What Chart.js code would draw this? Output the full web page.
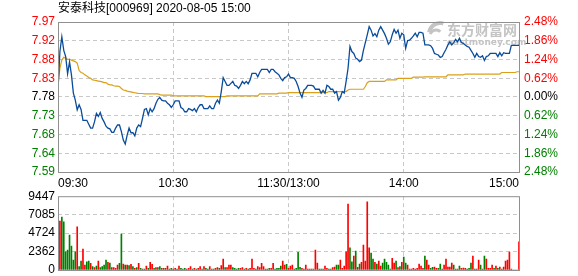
<!DOCTYPE html>
<html lang="zh">
<head>
<meta charset="UTF-8">
<title>安泰科技 分时</title>
<script src="https://cdn.jsdelivr.net/npm/chart.js"></script>
<style>
    html, body { margin: 0; padding: 0; background: #fff; overflow: hidden; }
    .wrap { position: relative; width: 578px; height: 276px; overflow: hidden; }
    #priceChart { position: absolute; left: 0; top: 0; }
    #volChart { position: absolute; left: 0; top: 186px; }
</style>
</head>
<body>
<div class="wrap">
    <canvas id="priceChart" width="578" height="190"></canvas>
    <canvas id="volChart" width="578" height="100"></canvas>
</div>
<script>
const title = '安泰科技[000969] 2020-08-05 15:00';
const prevClose = 7.78;

const pctTicks = [-2.48, -1.86, -1.24, -0.62, 0, 0.62, 1.24, 1.86, 2.48];
const priceTickLabels = ['7.59', '7.64', '7.68', '7.73', '7.78', '7.83', '7.88', '7.92', '7.97'];
const pctTickLabels = ['2.48%', '1.86%', '1.24%', '0.62%', '0.00%', '0.62%', '1.24%', '1.86%', '2.48%'];
const timeTicks = [0, 60, 120, 180, 240];
const timeLabels = ['09:30', '10:30', '11:30/13:00', '14:00', '15:00'];
const volTicks = [0, 2362, 4724, 7085, 9447];

// one value per minute, 09:30 .. 15:00
const price = [
    7.800, 7.897, 7.935, 7.900, 7.884, 7.840, 7.870, 7.837, 7.790, 7.772,
    7.747, 7.760, 7.748, 7.720, 7.720, 7.720, 7.710, 7.700, 7.700, 7.716,
    7.738, 7.730, 7.740, 7.725, 7.716, 7.705, 7.700, 7.698, 7.689, 7.689,
    7.700, 7.708, 7.708, 7.691, 7.669, 7.659, 7.682, 7.700, 7.688, 7.688,
    7.680, 7.700, 7.708, 7.704, 7.725, 7.748, 7.750, 7.734, 7.750, 7.742,
    7.750, 7.764, 7.774, 7.779, 7.772, 7.770, 7.770, 7.764, 7.760, 7.753,
    7.760, 7.770, 7.770, 7.770, 7.753, 7.750, 7.742, 7.742, 7.750, 7.748,
    7.745, 7.750, 7.742, 7.753, 7.760, 7.760, 7.750, 7.750, 7.750, 7.757,
    7.750, 7.750, 7.764, 7.772, 7.764, 7.794, 7.830, 7.820, 7.810, 7.810,
    7.815, 7.820, 7.810, 7.808, 7.802, 7.810, 7.820, 7.814, 7.820, 7.814,
    7.824, 7.841, 7.841, 7.841, 7.832, 7.843, 7.851, 7.851, 7.851, 7.851,
    7.843, 7.851, 7.851, 7.845, 7.841, 7.837, 7.828, 7.822, 7.830, 7.832,
    7.839, 7.830, 7.830, 7.828, 7.820, 7.807, 7.790, 7.779, 7.798, 7.802,
    7.810, 7.810, 7.810, 7.808, 7.800, 7.800, 7.800, 7.790, 7.797, 7.790,
    7.810, 7.807, 7.800, 7.800, 7.790, 7.794, 7.772, 7.779, 7.794, 7.790,
    7.820, 7.854, 7.910, 7.897, 7.892, 7.880, 7.877, 7.871, 7.875, 7.900,
    7.920, 7.940, 7.961, 7.952, 7.937, 7.943, 7.935, 7.952, 7.961, 7.952,
    7.943, 7.931, 7.916, 7.922, 7.940, 7.954, 7.944, 7.952, 7.931, 7.944,
    7.940, 7.905, 7.925, 7.926, 7.931, 7.937, 7.944, 7.935, 7.946, 7.946,
    7.944, 7.914, 7.914, 7.914, 7.912, 7.905, 7.892, 7.890, 7.888, 7.882,
    7.884, 7.894, 7.903, 7.914, 7.922, 7.914, 7.920, 7.928, 7.922, 7.931,
    7.920, 7.918, 7.914, 7.910, 7.908, 7.900, 7.892, 7.882, 7.892, 7.884,
    7.882, 7.886, 7.874, 7.884, 7.886, 7.892, 7.892, 7.892, 7.892, 7.884,
    7.894, 7.886, 7.894, 7.892, 7.892, 7.892, 7.913, 7.913, 7.913, 7.913,
    7.913
];

const avgPrice = [
    7.810, 7.854, 7.875, 7.882, 7.880, 7.877, 7.877, 7.875, 7.873, 7.871,
    7.867, 7.848, 7.843, 7.841, 7.837, 7.834, 7.830, 7.828, 7.824, 7.823,
    7.822, 7.821, 7.820, 7.819, 7.817, 7.817, 7.813, 7.811, 7.811, 7.809,
    7.808, 7.808, 7.807, 7.802, 7.798, 7.797, 7.795, 7.794, 7.793, 7.792,
    7.791, 7.790, 7.789, 7.789, 7.789, 7.788, 7.788, 7.788, 7.788, 7.788,
    7.788, 7.788, 7.788, 7.786, 7.785, 7.785, 7.785, 7.785, 7.785, 7.785,
    7.783, 7.783, 7.783, 7.783, 7.783, 7.783, 7.783, 7.783, 7.783, 7.783,
    7.783, 7.783, 7.783, 7.783, 7.783, 7.783, 7.783, 7.781, 7.781, 7.781,
    7.781, 7.781, 7.781, 7.781, 7.781, 7.781, 7.781, 7.781, 7.783, 7.783,
    7.783, 7.783, 7.783, 7.783, 7.783, 7.783, 7.783, 7.783, 7.783, 7.783,
    7.783, 7.783, 7.783, 7.783, 7.783, 7.788, 7.788, 7.788, 7.788, 7.788,
    7.788, 7.788, 7.788, 7.788, 7.788, 7.790, 7.790, 7.790, 7.790, 7.790,
    7.791, 7.791, 7.791, 7.791, 7.791, 7.791, 7.791, 7.791, 7.791, 7.791,
    7.791, 7.791, 7.791, 7.791, 7.791, 7.791, 7.791, 7.791, 7.791, 7.791,
    7.791, 7.794, 7.794, 7.794, 7.794, 7.794, 7.794, 7.794, 7.794, 7.794,
    7.794, 7.798, 7.800, 7.800, 7.800, 7.800, 7.800, 7.800, 7.800, 7.800,
    7.807, 7.817, 7.820, 7.820, 7.820, 7.820, 7.820, 7.820, 7.820, 7.820,
    7.820, 7.824, 7.824, 7.824, 7.824, 7.824, 7.824, 7.828, 7.828, 7.828,
    7.828, 7.828, 7.828, 7.828, 7.828, 7.831, 7.831, 7.831, 7.831, 7.831,
    7.831, 7.832, 7.832, 7.832, 7.832, 7.832, 7.832, 7.832, 7.832, 7.832,
    7.832, 7.832, 7.832, 7.837, 7.837, 7.837, 7.837, 7.837, 7.837, 7.837,
    7.837, 7.837, 7.839, 7.839, 7.839, 7.839, 7.839, 7.839, 7.839, 7.839,
    7.839, 7.839, 7.839, 7.839, 7.839, 7.839, 7.839, 7.839, 7.839, 7.839,
    7.839, 7.843, 7.843, 7.843, 7.843, 7.843, 7.843, 7.843, 7.843, 7.845,
    7.845
];

const volume = [
    7530, 6255, 6765, 6170, 2340, 2550, 4470, 3060, 1275, 2340,
    5530, 425, 1150, 2680, 640, 1060, 1150, 850, 425, 300,
    510, 1150, 300, 425, 640, 1275, 980, 895, 300, 300,
    210, 640, 850, 4595, 765, 640, 640, 550, 720, 425,
    210, 300, 850, 210, 130, 130, 510, 210, 980, 720,
    210, 300, 300, 425, 210, 210, 210, 510, 130, 210,
    130, 210, 130, 510, 210, 130, 210, 130, 210, 425,
    130, 210, 130, 210, 425, 130, 425, 210, 130, 425,
    130, 130, 210, 300, 210, 550, 1400, 300, 300, 640,
    640, 300, 210, 130, 210, 210, 300, 130, 210, 130,
    210, 1400, 210, 130, 425, 300, 850, 425, 130, 130,
    210, 210, 850, 130, 210, 210, 510, 1150, 640, 720,
    210, 510, 640, 130, 210, 2255, 340, 210, 130, 640,
    130, 130, 130, 130, 2550, 890, 130, 130, 130, 510,
    210, 130, 130, 300, 380, 640, 640, 1275, 210, 510,
    2340, 8425, 2850, 1060, 1790, 2425, 340, 765, 980, 3190,
    1150, 8720, 2850, 2170, 1400, 980, 765, 1150, 510, 895,
    1400, 980, 640, 130, 1490, 895, 1150, 300, 425, 980,
    1660, 895, 640, 130, 130, 210, 130, 210, 765, 510,
    210, 1790, 1275, 640, 210, 340, 380, 210, 210, 765,
    130, 640, 1400, 380, 380, 895, 640, 130, 130, 510,
    210, 250, 210, 130, 210, 895, 1790, 130, 130, 1275,
    640, 130, 1790, 1400, 210, 210, 640, 210, 510, 210,
    380, 130, 380, 1150, 1275, 2300, 130, 0, 0, 0,
    3615
];

// r = up minute, g = down minute
const volDir = (
    'rrgggggggg' + 'rggrrggrgr' + 'grggggrgrr' + 'rrggrgrgrg' + 'rgrgrgrgrr' +
    'grggrgrrgg' + 'rrgrgggrrr' + 'grgrrgrggr' + 'ggrrgrrgrr' + 'rggggrrgrg' +
    'rrrgrrrrgr' + 'grrggggrrg' + 'rrrggggrrr' + 'rrrgrrgggr' + 'rggrrggrrr' +
    'rrggrgrgrr' + 'rrrggrgrrg' + 'ggggrrgrgr' + 'ggrrrrrrrr' + 'rgrrggrrgg' +
    'rrrrrrgrrg' + 'rrrgggrgrr' + 'grgrrrrgrg' + 'rgrrrrrrrr' + 'r'
).split('');

const RED = '#ff0000';
const GREEN = '#008000';
const GRID = '#c8c8c8';
const FONT = { family: "'Liberation Sans', 'Noto Sans CJK SC', sans-serif", size: 12 };

function signColor(i) {
    if (i < 4) return GREEN;
    if (i > 4) return RED;
    return '#000000';
}

function edgeFree(last) {
    return ctx => (ctx.index === 0 || ctx.index === last) ? 'rgba(0,0,0,0)' : GRID;
}

const frame = {
    id: 'frame',
    afterDatasetsDraw(chart) {
        const a = chart.chartArea;
        const c = chart.ctx;
        c.save();
        c.strokeStyle = '#909090';
        c.lineWidth = 1;
        c.strokeRect(a.left + 0.5, a.top + 0.5, a.right - a.left, a.bottom - a.top);
        c.restore();
    }
};

const header = {
    id: 'header',
    beforeDatasetsDraw(chart) {
        const c = chart.ctx;
        c.save();
        c.fillStyle = '#000';
        c.font = "12px 'Liberation Sans', 'Noto Sans CJK SC', sans-serif";
        c.textBaseline = 'middle';
        c.fillText(title, 58, 9);

        // eastmoney watermark
        c.fillStyle = '#c4c4c4';
        c.strokeStyle = '#c4c4c4';
        c.lineWidth = 4;
        c.beginPath();
        c.arc(440, 34, 11, Math.PI * 1.05, Math.PI * 1.6);
        c.stroke();
        c.lineWidth = 3;
        c.beginPath();
        c.arc(436, 36, 6, Math.PI * 1.1, Math.PI * 1.75);
        c.stroke();
        c.font = "bold 14px 'Noto Sans CJK SC', sans-serif";
        c.fillText('东方财富网', 447, 30);
        c.font = "bold 9px 'DejaVu Sans', sans-serif";
        c.fillText('eastmoney.com', 447, 43);
        c.restore();
    }
};

new Chart(document.getElementById('priceChart'), {
    type: 'line',
    data: {
        datasets: [
            {
                data: price.map((y, x) => ({ x, y })),
                borderColor: '#0a4c9c',
                borderWidth: 1.3,
                pointRadius: 0,
                tension: 0,
                yAxisID: 'y'
            },
            {
                data: avgPrice.map((y, x) => ({ x, y })),
                borderColor: '#daa01a',
                borderWidth: 1.2,
                pointRadius: 0,
                tension: 0,
                yAxisID: 'y'
            }
        ]
    },
    options: {
        animation: false,
        responsive: false,
        devicePixelRatio: 1,
        layout: { padding: { top: 22, left: 0, right: 0, bottom: 0 } },
        plugins: { legend: { display: false }, tooltip: { enabled: false } },
        scales: {
            x: {
                type: 'linear',
                min: 0,
                max: 240,
                afterBuildTicks: s => { s.ticks = timeTicks.map(v => ({ value: v })); },
                afterFit: s => { s.height = 18; },
                ticks: {
                    callback: (v, i) => timeLabels[i],
                    align: 'inner',
                    maxRotation: 0,
                    autoSkip: false,
                    padding: 4,
                    color: '#000',
                    font: FONT
                },
                grid: { color: edgeFree(4), drawTicks: false },
                border: { display: false, dash: [4, 3] }
            },
            y: {
                position: 'left',
                min: prevClose * (1 - 0.0248),
                max: prevClose * (1 + 0.0248),
                afterBuildTicks: s => { s.ticks = pctTicks.map(p => ({ value: prevClose * (1 + p / 100) })); },
                afterFit: s => { s.width = 58; },
                ticks: {
                    callback: (v, i) => priceTickLabels[i],
                    color: ctx => signColor(ctx.index),
                    autoSkip: false,
                    padding: 3,
                    font: FONT
                },
                grid: { color: edgeFree(8), drawTicks: false },
                border: { display: false, dash: [4, 3] }
            },
            yr: {
                position: 'right',
                min: prevClose * (1 - 0.0248),
                max: prevClose * (1 + 0.0248),
                afterBuildTicks: s => { s.ticks = pctTicks.map(p => ({ value: prevClose * (1 + p / 100) })); },
                afterFit: s => { s.width = 59; },
                ticks: {
                    callback: (v, i) => pctTickLabels[i],
                    color: ctx => signColor(ctx.index),
                    autoSkip: false,
                    padding: 5,
                    font: FONT
                },
                grid: { display: false, drawTicks: false },
                border: { display: false }
            }
        }
    },
    plugins: [header, frame]
});

new Chart(document.getElementById('volChart'), {
    type: 'bar',
    data: {
        datasets: [{
            data: volume.map((y, x) => ({ x, y })),
            backgroundColor: volDir.map(d => d === 'r' ? RED : GREEN),
            barThickness: 1
        }]
    },
    options: {
        animation: false,
        responsive: false,
        devicePixelRatio: 1,
        layout: { padding: { top: 10, left: 0, right: 59, bottom: 16 } },
        plugins: { legend: { display: false }, tooltip: { enabled: false } },
        scales: {
            x: {
                type: 'linear',
                min: 0,
                max: 240,
                offset: false,
                afterBuildTicks: s => { s.ticks = timeTicks.map(v => ({ value: v })); },
                afterFit: s => { s.height = 0; },
                ticks: { display: false },
                grid: { color: edgeFree(4), drawTicks: false, offset: false },
                border: { display: false, dash: [4, 3] }
            },
            y: {
                min: 0,
                max: volTicks[volTicks.length - 1],
                afterBuildTicks: s => { s.ticks = volTicks.map(v => ({ value: v })); },
                afterFit: s => { s.width = 58; },
                ticks: {
                    callback: v => String(v),
                    color: '#000',
                    autoSkip: false,
                    padding: 3,
                    font: FONT
                },
                grid: { color: edgeFree(4), drawTicks: false },
                border: { display: false, dash: [4, 3] }
            }
        }
    },
    plugins: [frame]
});
</script>
</body>
</html>
